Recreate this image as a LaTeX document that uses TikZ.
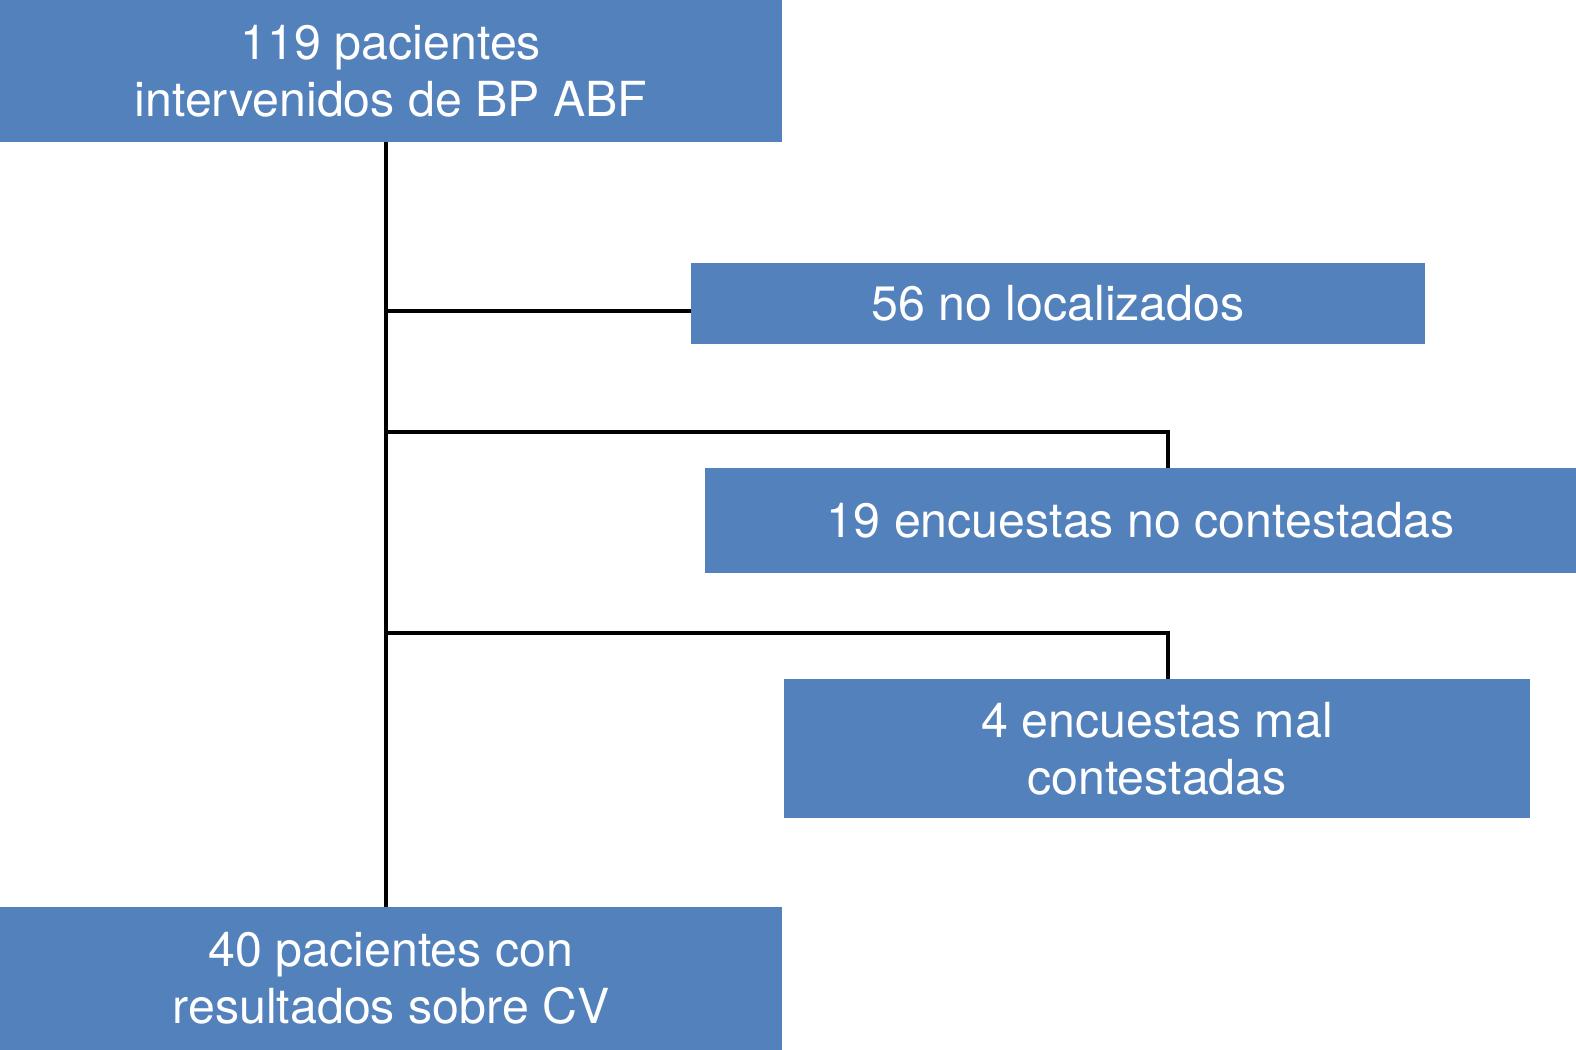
\documentclass[tikz,border=0pt]{standalone}
\usepackage{fontspec}
\setmainfont{TeX Gyre Heros}
\usepackage{xcolor}
\usepackage{tikz}
\usetikzlibrary{positioning}

\definecolor{boxblue}{HTML}{5381BC}

\begin{document}
\begin{tikzpicture}[
  x=0.02cm, y=-0.02cm,
  flowbox/.style={fill=boxblue, text=white, inner sep=0pt, align=center,
    font=\fontsize{27.5}{32.4}\selectfont},
  link/.style={line width=2pt, black}
]
  \useasboundingbox (0,0) rectangle (1576,1050);

  % Boxes
  \node[flowbox, minimum width=15.64cm, minimum height=2.84cm] (total) at (391,71)
    {119 pacientes\\intervenidos de BP ABF};
  \node[flowbox, minimum width=14.68cm, minimum height=1.62cm] (nolocal) at (1058,303.5)
    {56 no localizados};
  \node[flowbox, minimum width=17.42cm, minimum height=2.1cm] (noresp) at (1140.5,520.5)
    {19 encuestas no contestadas};
  \node[flowbox, minimum width=14.92cm, minimum height=2.78cm] (malresp) at (1157,748.5)
    {4 encuestas mal\\contestadas};
  \node[flowbox, minimum width=15.64cm, minimum height=2.86cm] (final) at (391,978.5)
    {40 pacientes con\\resultados sobre CV};

  % Trunk and branch points
  \coordinate (trunk) at (386,0);
  \coordinate (drop) at (1168,0);
  \coordinate (knee1) at (386,311);
  \coordinate (knee2) at (1168,432);
  \coordinate (knee3) at (1168,633);

  \draw[link] (total.south -| trunk) -- (final.north -| trunk);
  \draw[link] (knee1) -- (nolocal.west |- knee1);
  \draw[link] (trunk |- knee2) -- (knee2) -- (noresp.north -| drop);
  \draw[link] (trunk |- knee3) -- (knee3) -- (malresp.north -| drop);

\end{tikzpicture}
\end{document}
